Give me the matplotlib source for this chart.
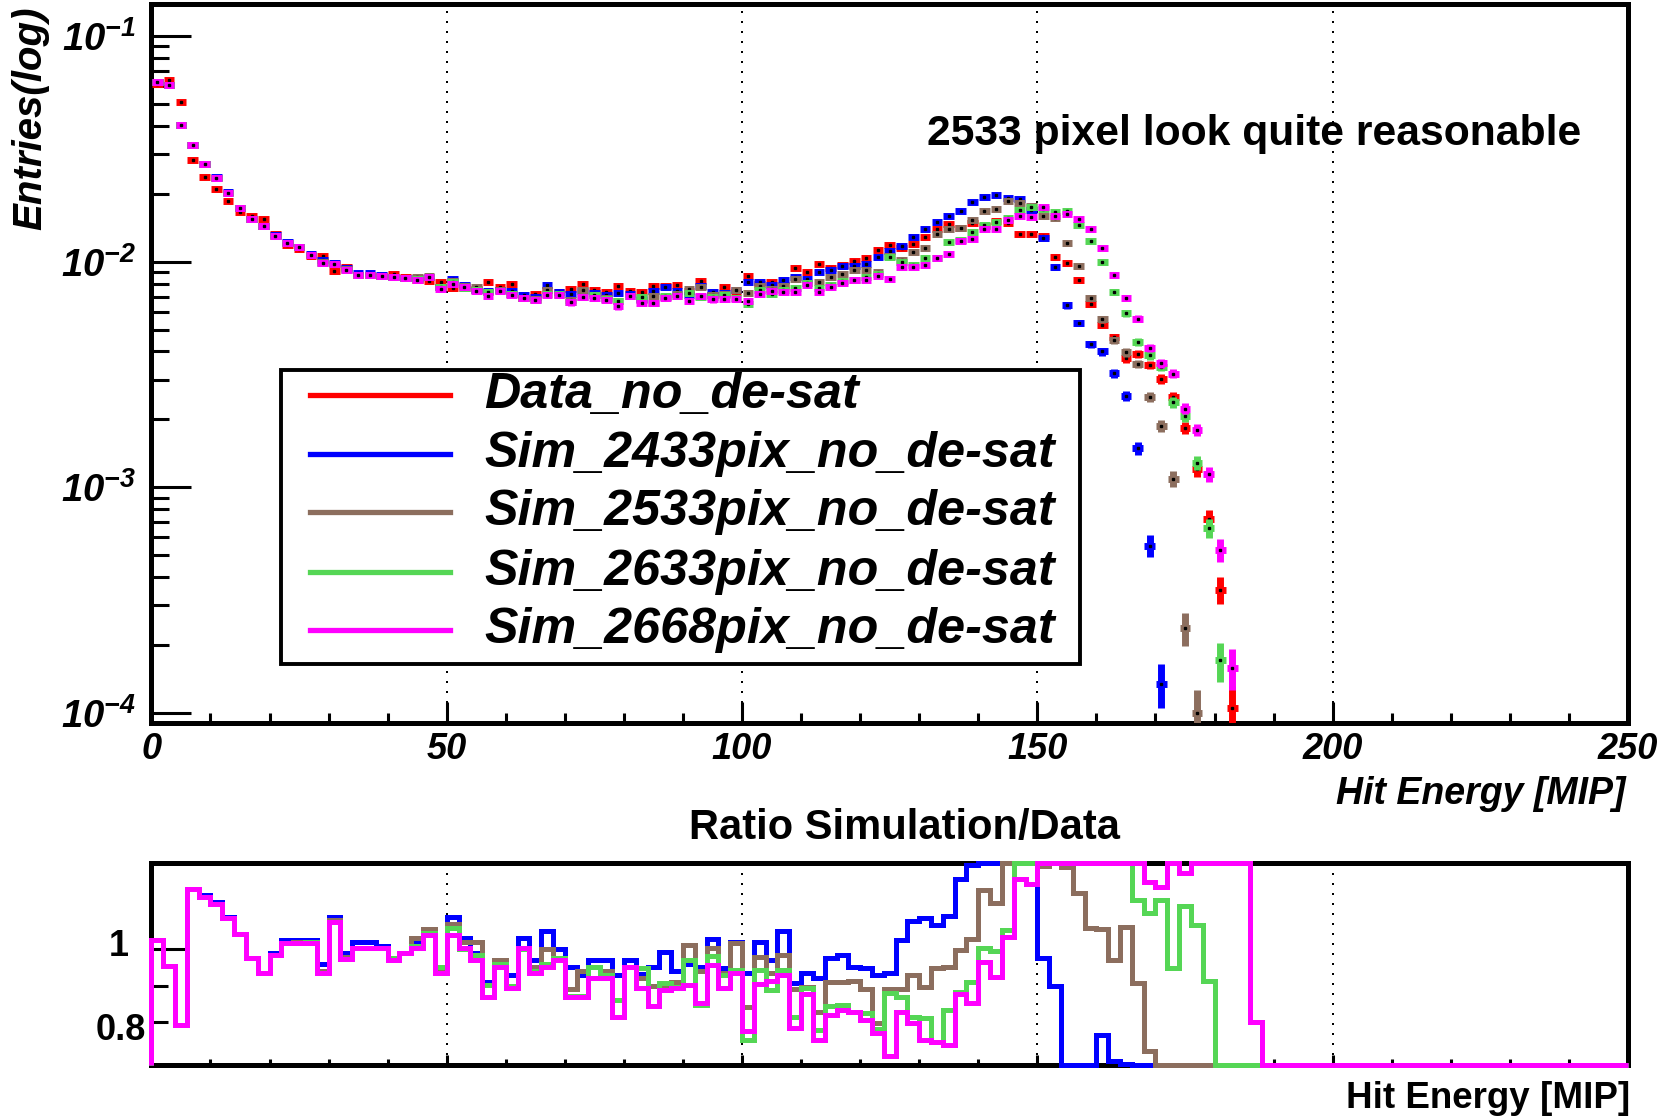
import numpy as np
import matplotlib
matplotlib.use("Agg")
import matplotlib.pyplot as plt
import matplotlib.transforms as mtransforms
from matplotlib.lines import Line2D
from matplotlib.patches import Rectangle

plt.rcParams['font.family'] = ['Liberation Sans', 'DejaVu Sans']
plt.rcParams['mathtext.fontset'] = 'custom'
plt.rcParams['mathtext.rm'] = 'Liberation Sans:bold:italic'
plt.rcParams['mathtext.it'] = 'Liberation Sans:bold:italic'
plt.rcParams['mathtext.bf'] = 'Liberation Sans:bold:italic'

# ---------------- data (normalised entries per 2-MIP bin, starting at 0 MIP) ----------------
bin_width = 2.0
n_bins = 125
x_max = 250

data_no_desat = [
    0.0612, 0.0635, 0.0512, 0.0281, 0.0236, 0.0209, 0.0186, 0.0166, 0.0159, 0.0154,
    0.0132, 0.0119, 0.01138, 0.01054, 0.01055, 0.00908, 0.00944, 0.00872, 0.00872, 0.00862,
    0.00881, 0.00857, 0.0083, 0.00818, 0.00813, 0.00765, 0.00767, 0.0076, 0.00812, 0.00775,
    0.00799, 0.00688, 0.00722, 0.00749, 0.00734, 0.0076, 0.008, 0.0075, 0.00737, 0.00779,
    0.00742, 0.00735, 0.00779, 0.00777, 0.00787, 0.00745, 0.00825, 0.00711, 0.00769, 0.00734,
    0.00868, 0.00794, 0.0081, 0.00791, 0.0094, 0.009, 0.0098, 0.00939, 0.00966, 0.01005,
    0.01034, 0.01129, 0.0119, 0.01145, 0.01193, 0.01283, 0.014, 0.01466, 0.01407, 0.01483,
    0.01445, 0.01511, 0.01479, 0.0133, 0.0133, 0.013, 0.0105, 0.00985, 0.0083, 0.00652,
    0.00525, 0.00462, 0.00373, 0.00389, 0.00349, 0.00302, 0.00251, 0.00184, 0.0012, 0.000723,
    0.000352, 0.000105, 0.00003, 0.00002]

sim_2433pix = [
    0.0628, 0.0605, 0.0405, 0.0328, 0.02714, 0.02362, 0.02027, 0.0173, 0.0155, 0.0144,
    0.01307, 0.0122, 0.01166, 0.0108, 0.01013, 0.0099, 0.00935, 0.00889, 0.00889, 0.00871,
    0.00859, 0.00848, 0.00847, 0.00859, 0.00772, 0.00834, 0.0079, 0.00752, 0.00739, 0.00752,
    0.00743, 0.00709, 0.007, 0.00786, 0.00734, 0.00722, 0.00744, 0.00728, 0.00715, 0.00724,
    0.0072, 0.00684, 0.00742, 0.00772, 0.0074, 0.00715, 0.00784, 0.00731, 0.00729, 0.00749,
    0.00811, 0.00811, 0.00787, 0.0083, 0.00852, 0.00841, 0.00902, 0.00916, 0.00952, 0.00957,
    0.0098, 0.01049, 0.01111, 0.01175, 0.01285, 0.01393, 0.01495, 0.016, 0.0168, 0.0183,
    0.0194, 0.0197, 0.0192, 0.019, 0.0169, 0.0127, 0.00944, 0.0064, 0.00535, 0.0043,
    0.004, 0.0032, 0.00255, 0.00149, 0.000552, 0.000135]

sim_2533pix = [
    0.0628, 0.0605, 0.0405, 0.0328, 0.0270, 0.0235, 0.0202, 0.0173, 0.0155, 0.0144,
    0.0130, 0.0121, 0.01161, 0.01075, 0.00992, 0.00981, 0.00925, 0.00876, 0.00876, 0.00866,
    0.00859, 0.00848, 0.00855, 0.00865, 0.00772, 0.00819, 0.00782, 0.00775, 0.00731, 0.00752,
    0.00719, 0.00688, 0.00686, 0.00749, 0.00712, 0.00676, 0.00752, 0.00714, 0.00693, 0.0067,
    0.00705, 0.00676, 0.00701, 0.00699, 0.00716, 0.00754, 0.00776, 0.00713, 0.00718, 0.00746,
    0.00729, 0.00778, 0.00757, 0.00779, 0.00838, 0.00807, 0.00811, 0.00855, 0.0088, 0.00916,
    0.00922, 0.00898, 0.01061, 0.01021, 0.01108, 0.01151, 0.01327, 0.01396, 0.01404, 0.01527,
    0.01682, 0.01703, 0.01858, 0.01816, 0.0177, 0.016, 0.01556, 0.0121, 0.0096, 0.0069,
    0.00555, 0.00448, 0.00396, 0.00353, 0.00251, 0.00187, 0.00109, 0.000237, 0.0001]

sim_2633pix = [
    0.0628, 0.0605, 0.0405, 0.0328, 0.0270, 0.0235, 0.0202, 0.0173, 0.0155, 0.0144,
    0.0130, 0.0121, 0.01157, 0.01075, 0.00985, 0.00977, 0.0092, 0.00875, 0.00875, 0.00865,
    0.00859, 0.00848, 0.00838, 0.00855, 0.00774, 0.00811, 0.00767, 0.00749, 0.00731, 0.00744,
    0.00719, 0.00688, 0.00679, 0.00719, 0.00716, 0.00661, 0.00696, 0.00713, 0.00685, 0.0067,
    0.00706, 0.00698, 0.00656, 0.00704, 0.00706, 0.00723, 0.00698, 0.00697, 0.00714, 0.00692,
    0.00651, 0.00749, 0.00719, 0.00746, 0.00765, 0.00803, 0.00761, 0.00791, 0.00817, 0.00832,
    0.00851, 0.00882, 0.01045, 0.00995, 0.00971, 0.01039, 0.01043, 0.01221, 0.01242, 0.01351,
    0.01449, 0.01502, 0.01559, 0.017, 0.0174, 0.0172, 0.0166, 0.0167, 0.0145, 0.0124,
    0.01, 0.00735, 0.0059, 0.00442, 0.00384, 0.00343, 0.00238, 0.00206, 0.00128, 0.00066,
    0.000171]

sim_2668pix = [
    0.0628, 0.0605, 0.0405, 0.0328, 0.0270, 0.0235, 0.0202, 0.0173, 0.0155, 0.0144,
    0.0130, 0.0121, 0.01157, 0.01072, 0.00985, 0.00977, 0.0092, 0.00875, 0.00875, 0.00865,
    0.00855, 0.00848, 0.00832, 0.00851, 0.00759, 0.00796, 0.00769, 0.00738, 0.00706, 0.00738,
    0.00713, 0.0069, 0.00674, 0.00713, 0.00713, 0.0066, 0.00695, 0.0069, 0.00678, 0.00634,
    0.00706, 0.00656, 0.00656, 0.0069, 0.00702, 0.00671, 0.00702, 0.0068, 0.00686, 0.00686,
    0.00671, 0.00719, 0.00738, 0.00735, 0.00735, 0.0079, 0.00735, 0.00769, 0.00804, 0.00832,
    0.00832, 0.00867, 0.0084, 0.00948, 0.0095, 0.00962, 0.01043, 0.01079, 0.01235, 0.01262,
    0.01396, 0.01396, 0.01531, 0.0159, 0.0157, 0.0174, 0.016, 0.0163, 0.0154, 0.0139,
    0.0115, 0.00874, 0.00692, 0.00558, 0.00414, 0.00354, 0.00319, 0.00223, 0.0018, 0.00114,
    0.000528, 0.000159, 0.00005, 0.000016]

labels = ["Data_no_de-sat", "Sim_2433pix_no_de-sat", "Sim_2533pix_no_de-sat",
          "Sim_2633pix_no_de-sat", "Sim_2668pix_no_de-sat"]
series = [data_no_desat, sim_2433pix, sim_2533pix, sim_2633pix, sim_2668pix]
colors = ["#ff0000", "#0000ff", "#8c6e5e", "#55d655", "#ff00ff"]
n_entries = 150000.0   # for Poisson error bars

x_ticks = [0, 50, 100, 150, 200, 250]
y_ticks = [1e-4, 1e-3, 1e-2, 1e-1]
y_ticklabels = [r"$10^{-4}$", r"$10^{-3}$", r"$10^{-2}$", r"$10^{-1}$"]

# ---------------- figure ----------------
W, H = 1660, 1116
fig = plt.figure(figsize=(W / 100, H / 100), dpi=100)

def fx(px):
    return px / W

def fy(py):
    return 1 - py / H

ax_l, ax_r = 151.4, 1628.0
ax = fig.add_axes([fx(ax_l), fy(723.3), fx(ax_r - ax_l), (723.3 - 4.0) / H])
ax2 = fig.add_axes([fx(ax_l), fy(1065.0), fx(ax_r - ax_l), (1065.0 - 863.3) / H])

edges = np.arange(n_bins + 1) * bin_width
centers = edges[:-1] + bin_width / 2

FRAME_LW = 3.6
for a in (ax, ax2):
    for s in a.spines.values():
        s.set_linewidth(FRAME_LW)
        s.set_zorder(2.5)

# ---------------- top panel ----------------
ax.set_yscale('log')
ax.set_xlim(0, x_max)
ax.set_ylim(9.0e-5, 0.1386)

for z, (vals, c) in enumerate(zip(series, colors)):
    v = np.asarray(vals, dtype=float)
    xc = centers[:len(v)]
    m = v > 0
    err = np.sqrt(v / n_entries)
    ax.errorbar(xc[m], v[m], xerr=0.9, yerr=err[m], fmt='s', ms=2.0,
                mfc='k', mec='k', ecolor=c, elinewidth=5.0, capsize=0,
                zorder=3 + z)

ax.set_xticks(x_ticks)
ax.set_xticklabels([str(t) for t in x_ticks], fontsize=26, fontweight='bold',
                   fontstyle='italic')
ax.set_xticks(np.arange(0, x_max + 1, 10), minor=True)
ax.set_yticks(y_ticks)
ax.set_yticklabels(y_ticklabels, fontsize=27.5)
minor_y = [m * 10.0 ** e for e in range(-4, -1) for m in range(2, 10)]
ax.set_yticks(minor_y, minor=True)
ax.yaxis.set_minor_formatter(plt.NullFormatter())
ax.tick_params(axis='x', which='major', direction='in', length=15, width=2.2, pad=6)
ax.tick_params(axis='x', which='minor', direction='in', length=7, width=2.2)
ax.tick_params(axis='y', which='major', direction='in', length=28.5, width=2.2, pad=11)
ax.tick_params(axis='y', which='minor', direction='in', length=13, width=2.2)

ax.grid(True, axis='x', which='major', color='k', linestyle=(0, (1, 4)), linewidth=1.44)
ax.set_axisbelow(True)

def axx(px):
    return (px - ax_l) / (ax_r - ax_l)

def axy(py):
    return (723.3 - py) / 719.3

ax.set_ylabel("Entries(log)", fontsize=29, fontweight='bold', fontstyle='italic',
              ha='right', va='bottom')
ax.yaxis.set_label_coords(axx(49), axy(6))
ax.set_xlabel("Hit Energy [MIP]", fontsize=27, fontweight='bold', fontstyle='italic',
              ha='right', va='center')
ax.xaxis.set_label_coords(axx(1625), axy(794))

ax.text(axx(1254.6), axy(134.5),
        "2533 pixel look quite reasonable", transform=ax.transAxes,
        ha='center', va='center', fontsize=30.7, fontweight='bold')

# legend (framed box with line samples)
ax.add_patch(Rectangle((axx(280.5), axy(664)), axx(1080) - axx(280.5),
                       axy(369.5) - axy(664), transform=ax.transAxes,
                       facecolor='white', edgecolor='k', lw=2.8, zorder=20))
row_y = [395.0, 454.2, 512.4, 571.7, 629.9]
for ry, lab, c in zip(row_y, labels, colors):
    ax.add_line(Line2D([axx(310), axx(450)], [axy(ry), axy(ry)], color=c, lw=3.8,
                       transform=ax.transAxes, zorder=21))
    ax.text(axx(484), axy(ry), lab, transform=ax.transAxes, fontsize=36.2,
            fontweight='bold', fontstyle='italic', ha='left', va='center', zorder=22)

# ---------------- ratio panel ----------------
r_lo, r_hi = 0.6804, 1.2376
ax2.set_xlim(0, x_max)
ax2.set_ylim(r_lo, r_hi)

data_full = np.zeros(n_bins)
data_full[:len(data_no_desat)] = data_no_desat
for z, (vals, c) in enumerate(zip(series[1:], colors[1:])):
    s = np.zeros(n_bins)
    s[:len(vals)] = vals
    ratio = np.divide(s, data_full, out=np.zeros(n_bins), where=data_full > 0)
    ax2.stairs(np.clip(ratio, r_lo, r_hi), edges, baseline=r_lo, color=c, lw=3.6,
               clip_on=False, zorder=3 + z)

ax2.set_xticks(x_ticks)
ax2.set_xticklabels([])
ax2.set_xticks(np.arange(0, x_max + 1, 10), minor=True)
ax2.set_yticks([1.0])
ax2.set_yticklabels(["1"], fontsize=26, fontweight='bold')
ax2.set_yticks([0.8, 0.9], minor=True)
ax2.set_yticklabels(["0.8", ""], minor=True, fontsize=26, fontweight='bold')
ax2.tick_params(axis='x', which='major', direction='in', length=7, width=2.2)
ax2.tick_params(axis='x', which='minor', direction='in', length=4, width=2.2)
ax2.tick_params(axis='y', which='major', direction='in', length=27, width=2.2, pad=16)
ax2.tick_params(axis='y', which='minor', direction='in', length=12, width=2.2, pad=4)
ax2.grid(True, axis='x', which='major', color='k', linestyle=(0, (1, 4)), linewidth=1.44)
ax2.set_axisbelow(True)

# small vertical label offsets as in the reference
for tick in ax2.yaxis.get_major_ticks():
    tick.label1.set_transform(tick.label1.get_transform() +
                              mtransforms.ScaledTranslation(0, 0.07, fig.dpi_scale_trans))
for tick in ax2.yaxis.get_minor_ticks():
    tick.label1.set_transform(tick.label1.get_transform() +
                              mtransforms.ScaledTranslation(0, -0.05, fig.dpi_scale_trans))

ax2.text((904 - ax_l) / (ax_r - ax_l), 1 + (863.3 - 828) / 201.7,
         "Ratio Simulation/Data", transform=ax2.transAxes, ha='center', va='center',
         fontsize=30, fontweight='bold')
ax2.set_xlabel("Hit Energy [MIP]", fontsize=26.5, fontweight='bold', ha='right',
               va='center')
ax2.xaxis.set_label_coords((1630 - ax_l) / (ax_r - ax_l), (1065 - 1098) / 201.7)

fig.savefig("out.png", dpi=100)
